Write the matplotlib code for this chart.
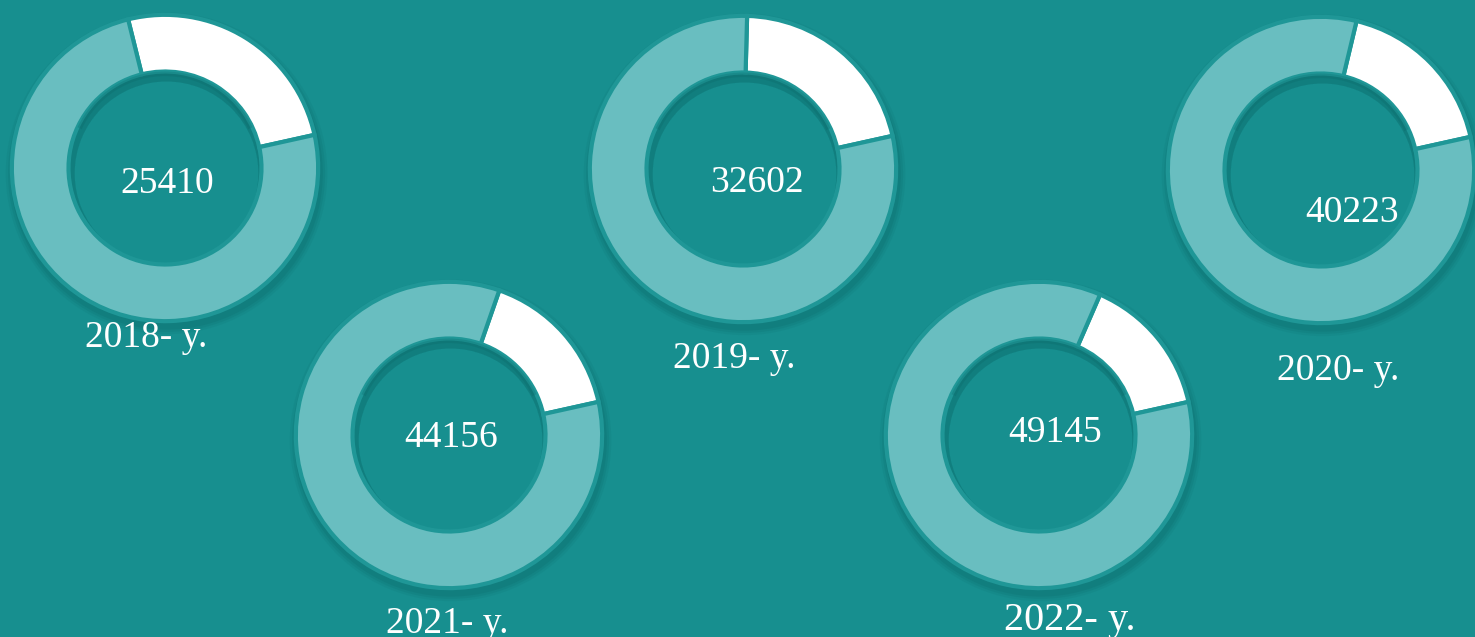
import matplotlib.pyplot as plt
from matplotlib.patches import Wedge

# data
years = ["2018", "2019", "2020", "2021", "2022"]
totals = [25410, 32602, 40223, 44156, 49145]
white_share = [25.4, 21.1, 17.8, 16.2, 15.0]   # % of ring drawn in white

# layout (pixels, top-left origin)
W, H = 1475, 637
centers = [(165, 168), (743, 169), (1321, 170), (449, 435), (1039, 435)]
num_pos = [(167, 193), (757, 192), (1352, 222), (451, 447), (1055, 442)]
lab_pos = [(146, 347), (734, 368), (1338, 380), (447, 633), (1070, 630)]
lab_size = [27, 27, 27, 27, 29]

bg = '#178f8f'
light = '#69bec0'
rim = '#1f9797'
font = 'Liberation Serif'

fig = plt.figure(figsize=(W / 100, H / 100), dpi=100, facecolor=bg)

S = 340  # axes side in px
lim = 1.11
for i in range(len(years)):
    cx, cy = centers[i]
    ax = fig.add_axes([(cx - S / 2) / W, (H - cy - S / 2) / H, S / W, S / H])
    ax.set_xlim(-lim, lim)
    ax.set_ylim(-lim, lim)
    ax.axis('off')

    # soft shadow under the ring
    for r, a in [(1.05, 0.10), (1.035, 0.14), (1.02, 0.18)]:
        ax.add_patch(Wedge((0.01, -0.035), r, 0, 360, width=r - 0.6,
                           color='#0a6464', alpha=a, lw=0, zorder=0))

    w = white_share[i]
    ax.pie([w, 100 - w], colors=['white', light], startangle=12.5,
           radius=1.0, counterclock=True,
           wedgeprops=dict(width=0.37, edgecolor=rim, linewidth=3))
    ax.set_xlim(-lim, lim)
    ax.set_ylim(-lim, lim)
    ax.set_aspect('equal')

    # inner shadow along the top of the hole
    ax.add_patch(Wedge((0, 0), 0.63, 25, 155, width=0.03,
                       color='#0a6464', alpha=0.25, lw=0, zorder=5))

    nx, ny = num_pos[i]
    fig.text(nx / W, 1 - ny / H, str(totals[i]), color='white',
             fontsize=27, family=font, ha='center', va='baseline')
    lx, ly = lab_pos[i]
    fig.text(lx / W, 1 - ly / H, years[i] + "- y.", color='white',
             fontsize=lab_size[i], family=font, ha='center', va='baseline')

plt.savefig('out.png', dpi=100, facecolor=bg)
